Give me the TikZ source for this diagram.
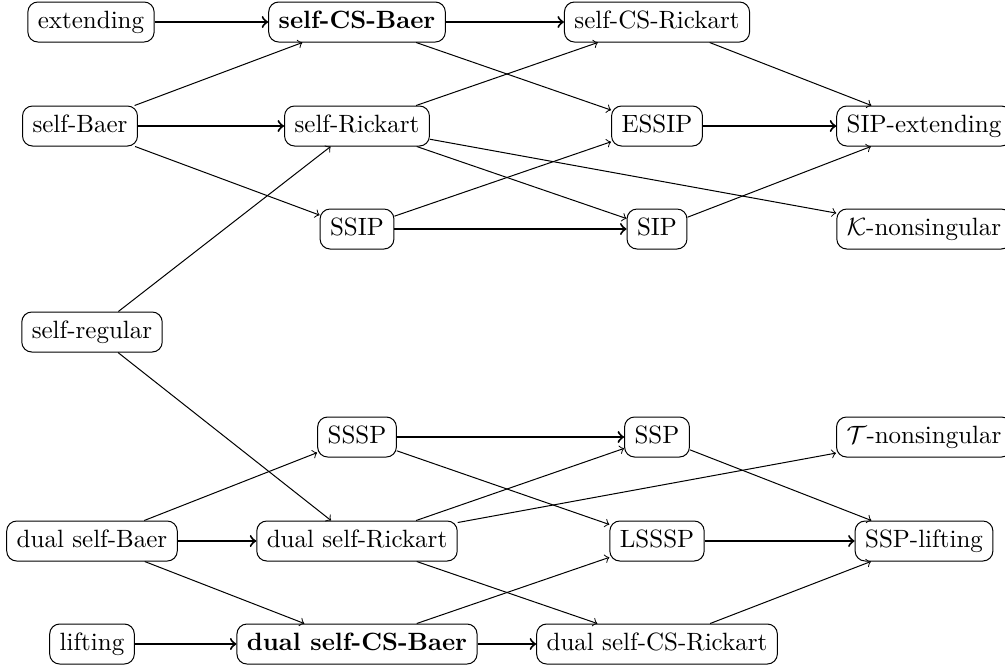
\documentclass[tikz,border=0pt]{standalone}
\usepackage{amsmath}
\tikzset{
	mod/.style={draw, rounded corners=4pt, inner xsep=4pt, inner ysep=3.5pt, text height=7pt, text depth=2pt},
	imp/.style={->, thick},
	wimp/.style={->}
}

\begin{document}
\begin{tikzpicture}[x=0.4pt, y=-0.4pt]
	\useasboundingbox (0,0) rectangle (1005,668);

	% first block
	\node [mod] (ext) at (91,22) {extending};
	\node [mod] (scsb) at (357,22) {\textbf{self-CS-Baer}};
	\node [mod] (scsr) at (657,22) {self-CS-Rickart};
	\node [mod] (sb) at (80,126) {self-Baer};
	\node [mod] (sr) at (357,126) {self-Rickart};
	\node [mod] (essip) at (657,126) {ESSIP};
	\node [mod] (sipext) at (924,126) {SIP-extending};
	\node [mod] (ssip) at (357,229) {SSIP};
	\node [mod] (sip) at (657,229) {SIP};
	\node [mod] (knon) at (924,229) {$\mathcal{K}$-nonsingular};

	\node [mod] (sreg) at (92,332) {self-regular};

	% dual block
	\node [mod] (sssp) at (357,437) {SSSP};
	\node [mod] (ssp) at (657,437) {SSP};
	\node [mod] (tnon) at (924,437) {$\mathcal{T}$-nonsingular};
	\node [mod] (dsb) at (92,541) {dual self-Baer};
	\node [mod] (dsr) at (357,541) {dual self-Rickart};
	\node [mod] (lsssp) at (657,541) {LSSSP};
	\node [mod] (ssplift) at (924,541) {SSP-lifting};
	\node [mod] (lift) at (92,644) {lifting};
	\node [mod] (dscsb) at (357,644) {\textbf{dual self-CS-Baer}};
	\node [mod] (dscsr) at (657,644) {dual self-CS-Rickart};

	\draw [imp] (ext) -- (scsb);
	\draw [imp] (scsb) -- (scsr);
	\draw [imp] (sb) -- (sr);
	\draw [imp] (essip) -- (sipext);
	\draw [imp] (ssip) -- (sip);
	\draw [wimp] (sb) -- (scsb);
	\draw [wimp] (sb) -- (ssip);
	\draw [wimp] (scsb) -- (essip);
	\draw [wimp] (sr) -- (scsr);
	\draw [wimp] (sr) -- (sip);
	\draw [wimp] (sr) -- (knon);
	\draw [wimp] (scsr) -- (sipext);
	\draw [wimp] (ssip) -- (essip);
	\draw [wimp] (sip) -- (sipext);

	\draw [wimp] (sreg) -- (sr);
	\draw [wimp] (sreg) -- (dsr);

	\draw [imp] (sssp) -- (ssp);
	\draw [imp] (dsb) -- (dsr);
	\draw [imp] (lsssp) -- (ssplift);
	\draw [imp] (lift) -- (dscsb);
	\draw [imp] (dscsb) -- (dscsr);
	\draw [wimp] (sssp) -- (lsssp);
	\draw [wimp] (ssp) -- (ssplift);
	\draw [wimp] (dsb) -- (sssp);
	\draw [wimp] (dsb) -- (dscsb);
	\draw [wimp] (dsr) -- (ssp);
	\draw [wimp] (dsr) -- (tnon);
	\draw [wimp] (dsr) -- (dscsr);
	\draw [wimp] (dscsb) -- (lsssp);
	\draw [wimp] (dscsr) -- (ssplift);
\end{tikzpicture}
\end{document}
